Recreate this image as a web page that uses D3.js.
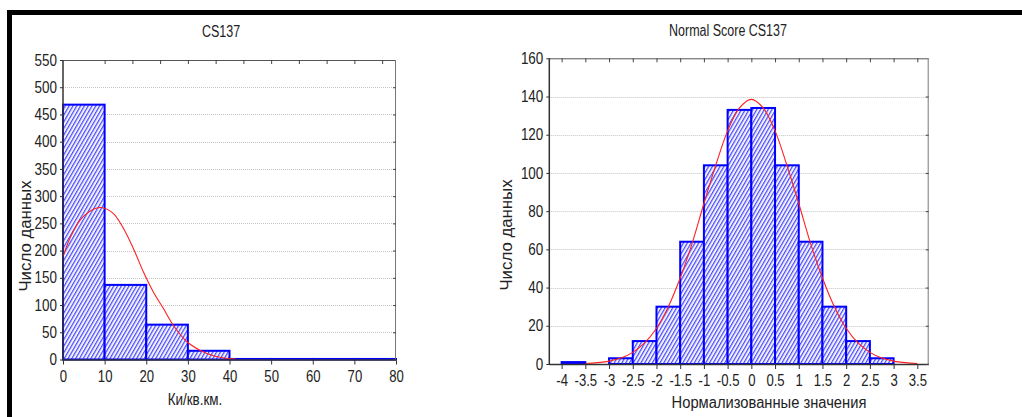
<!DOCTYPE html>
<html><head><meta charset="utf-8">
<script src="https://cdn.jsdelivr.net/npm/d3@7"></script>
<style>
html,body{margin:0;padding:0;background:#fff;}
svg{display:block;}
text{font-family:"Liberation Sans",Arial,sans-serif;fill:#222;}
</style></head>
<body>
<svg id="c" width="1022" height="417"></svg>
<script>
// ---- Left chart data (CS137) ----
const leftBinStarts = [0, 10, 20, 30, 40, 50, 60, 70];
const leftCounts    = [468, 137, 64, 16, 1, 1, 1, 1];
const leftXTicks    = [0, 10, 20, 30, 40, 50, 60, 70, 80];
const leftYTicks    = [0, 50, 100, 150, 200, 250, 300, 350, 400, 450, 500, 550];
const leftTopTicks  = [10, 16.67, 23.33, 30, 36.67, 43.33, 50, 56.67, 63.33, 70, 76.67];
const leftCurveX    = [0, 1.7, 4.1, 7.3, 9.2, 12.1, 14.5, 16.9, 19.3, 21.7, 24.1, 26.5, 29.7, 32.9, 36.1, 39.3, 41.5];
const leftCurveY    = [189, 223, 256, 276, 279, 268, 241, 204, 161, 124, 94, 63, 33, 17, 7, 2.2, 0.8];

// ---- Right chart data (Normal Score CS137) ----
const rightBinStarts = [-4, -3.5, -3, -2.5, -2, -1.5, -1, -0.5, 0, 0.5, 1, 1.5, 2, 2.5, 3];
const rightCounts    = [1, 0, 3, 12, 30, 64, 104, 133, 134, 104, 64, 30, 12, 3, 0];
const rightXTicks    = [-4, -3.5, -3, -2.5, -2, -1.5, -1, -0.5, 0, 0.5, 1, 1.5, 2, 2.5, 3, 3.5];
const rightYTicks    = [0, 20, 40, 60, 80, 100, 120, 140, 160];
const rightCurveX    = [-3.5, -3.25, -3, -2.75, -2.5, -2.25, -2, -1.75, -1.5, -1.25, -1, -0.75, -0.5, -0.25, 0, 0.25, 0.5, 0.75, 1, 1.25, 1.5, 1.75, 2, 2.25, 2.5, 2.75, 3, 3.25, 3.5];
const rightCurveY    = [0.3, 0.7, 1.5, 3.1, 6.1, 11, 18.7, 30, 45, 63, 84, 104, 122, 134, 138.5, 134, 122, 104, 84, 63, 45, 30, 18.7, 11, 6.1, 3.1, 1.5, 0.7, 0.3];

const svg = d3.select("#c");

// hatch pattern
const defs = svg.append("defs");
const pat = defs.append("pattern").attr("id","hatch").attr("patternUnits","userSpaceOnUse")
  .attr("width",3.3).attr("height",3.3).attr("patternTransform","rotate(30)");
pat.append("rect").attr("width",3.3).attr("height",3.3).attr("fill","#f2f2ff");
pat.append("rect").attr("x",0).attr("width",1.2).attr("height",3.3).attr("fill","#4848ff");

// frame
svg.append("rect").attr("x",7).attr("y",10).attr("width",1015).attr("height",5).attr("fill","#000");
svg.append("rect").attr("x",7).attr("y",10).attr("width",5).attr("height",407).attr("fill","#000");

// horizontal condensing of a text to mimic the narrow face of the original
function condense(sel, k){
  sel.each(function(){
    const w = this.getComputedTextLength();
    if (w > 0) {
      this.setAttribute("textLength", (w * k).toFixed(2));
      this.setAttribute("lengthAdjust", "spacingAndGlyphs");
    }
  });
}

function drawChart(o){
  const g = svg.append("g");
  const x = d3.scaleLinear().domain(o.xDomain).range([o.left, o.right]);
  const y = d3.scaleLinear().domain(o.yDomain).range([o.bottom, o.top]);

  // grid
  g.selectAll(".grid").data(o.yTicks.filter(v => v > o.yDomain[0] && v < o.yDomain[1])).join("line")
    .attr("x1", o.left).attr("x2", o.right)
    .attr("y1", d => Math.round(y(d))+0.5).attr("y2", d => Math.round(y(d))+0.5)
    .attr("stroke","#c4c4c4").attr("stroke-width",1).attr("stroke-dasharray","1,1");

  // bars
  g.selectAll(".bar").data(o.binStarts.map((s,i)=>({s, e:s+o.binWidth, v:o.counts[i]}))).join("rect")
    .attr("x", d => x(d.s)).attr("width", d => x(d.e)-x(d.s))
    .attr("y", d => y(d.v)).attr("height", d => y(0)-y(d.v))
    .attr("fill","url(#hatch)").attr("stroke","#0000ff").attr("stroke-width",2);

  // curve
  const pts = o.curveX.map((cx,i)=>[cx,o.curveY[i]]);
  g.append("path").datum(pts)
    .attr("d", d3.line().x(d=>x(d[0])).y(d=>y(d[1])).curve(d3.curveCatmullRom))
    .attr("fill","none").attr("stroke","#ff2020").attr("stroke-width",1.1);

  // axes box
  g.append("line").attr("x1",o.left).attr("x2",o.right).attr("y1",o.top+0.5).attr("y2",o.top+0.5).attr("stroke","#555");
  g.append("line").attr("x1",o.right-0.5).attr("x2",o.right-0.5).attr("y1",o.top).attr("y2",o.bottom).attr("stroke","#777");
  g.append("line").attr("x1",o.left).attr("x2",o.left).attr("y1",o.top).attr("y2",o.bottom+1).attr("stroke","#333").attr("stroke-width",1.5);
  g.append("line").attr("x1",o.left).attr("x2",o.right).attr("y1",o.bottom+0.5).attr("y2",o.bottom+0.5).attr("stroke","#333").attr("stroke-width",1.6);

  // bottom axis
  const xb = d3.axisBottom(x).tickValues(o.xTicks).tickSize(4).tickPadding(6).tickFormat(d => String(d));
  const ax = g.append("g").attr("transform",`translate(0,${o.bottom+1})`).call(xb);
  ax.select(".domain").remove();
  ax.selectAll("line").attr("stroke","#333");
  ax.selectAll("text").attr("font-size",16).attr("fill","#222").attr("dy","0.71em").call(condense, 0.82);

  // left axis
  const yl = d3.axisLeft(y).tickValues(o.yTicks).tickSize(3).tickPadding(3).tickFormat(d => String(d));
  const ay = g.append("g").attr("transform",`translate(${o.left},0)`).call(yl);
  ay.select(".domain").remove();
  ay.selectAll("line").attr("stroke","#333");
  ay.selectAll("text").attr("font-size",16).attr("fill","#222").call(condense, 0.84);

  // top inner ticks
  const xt = d3.axisBottom(x).tickValues(o.topTicks).tickSize(4).tickFormat("");
  const at = g.append("g").attr("transform",`translate(0,${o.top})`).call(xt);
  at.select(".domain").remove();
  at.selectAll("line").attr("stroke","#444");

  // right inner ticks
  const yr = d3.axisLeft(y).tickValues(o.yTicks.filter(v => v < o.yDomain[1])).tickSize(3).tickFormat("");
  const ar = g.append("g").attr("transform",`translate(${o.right},0)`).call(yr);
  ar.select(".domain").remove();
  ar.selectAll("line").attr("stroke","#444");

  // titles
  g.append("text").attr("x",o.titleX).attr("y",o.titleY).attr("text-anchor","middle").attr("font-size",16)
    .text(o.title).call(condense, 0.78);
  g.append("text").attr("x",o.xLabelX).attr("y",o.xLabelY).attr("text-anchor","middle").attr("font-size",16)
    .text(o.xLabel).call(condense, o.xLabelK);
  g.append("text").attr("transform",`translate(${o.yLabelX},${o.yLabelY}) rotate(-90)`)
    .attr("text-anchor","middle").attr("font-size",16).text(o.yLabel).call(condense, 1.05);
}

drawChart({
  left:63, right:396, top:60, bottom:359.5,
  xDomain:[0,80], yDomain:[0,550], binWidth:10,
  binStarts:leftBinStarts, counts:leftCounts, xTicks:leftXTicks, yTicks:leftYTicks, topTicks:leftTopTicks,
  curveX:leftCurveX, curveY:leftCurveY,
  title:"CS137", titleX:221, titleY:37,
  xLabel:"Ки/кв.км.", xLabelX:195, xLabelY:405, xLabelK:0.84,
  yLabel:"Число данных", yLabelX:31, yLabelY:236
});

drawChart({
  left:549.3, right:928.7, top:58.3, bottom:364,
  xDomain:[-4.26, 3.74], yDomain:[0,160], binWidth:0.5,
  binStarts:rightBinStarts, counts:rightCounts, xTicks:rightXTicks, yTicks:rightYTicks, topTicks:rightXTicks,
  curveX:rightCurveX, curveY:rightCurveY,
  title:"Normal Score CS137", titleX:728, titleY:36,
  xLabel:"Нормализованные значения", xLabelX:769, xLabelY:408, xLabelK:0.92,
  yLabel:"Число данных", yLabelX:512, yLabelY:235
});
</script>
</body></html>
